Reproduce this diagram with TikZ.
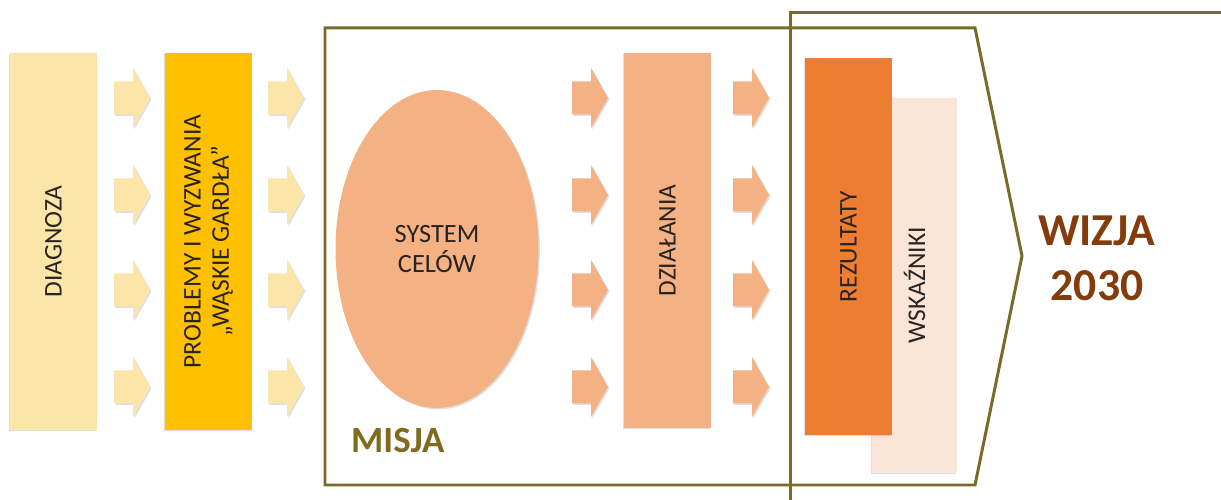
\documentclass[tikz,border=0pt]{standalone}
\usepackage{fontspec}
\setmainfont{Carlito}
\usetikzlibrary{shapes.geometric,shadows}
\definecolor{jaune}{HTML}{FCE5A8}
\definecolor{or}{HTML}{FFC000}
\definecolor{saumon}{HTML}{F4B183}
\definecolor{orange}{HTML}{ED7D31}
\definecolor{peche}{HTML}{FBE5D6}
\definecolor{cadre}{HTML}{7A6A2A}
\definecolor{olive}{HTML}{7F6B1E}
\definecolor{brun}{HTML}{843C0C}
\definecolor{texte}{HTML}{2A2420}
\begin{document}
\begin{tikzpicture}
    \tikzstyle{ombre}=[drop shadow={shadow xshift=-0.8pt,shadow yshift=-0.8pt,opacity=0.25}]
    \tikzstyle{bloc}=[rotate=90,minimum width=7.54cm,minimum height=1.74cm,inner sep=0pt,
                      align=center,text=texte,font=\fontsize{14.5}{16}\selectfont,ombre]
    \tikzstyle{fleche}=[drop shadow={shadow xshift=0.8pt,shadow yshift=-0.8pt,opacity=0.25}]
    \tikzstyle{bord}=[draw=cadre,line width=1.7pt]
    \useasboundingbox (0,0) rectangle (24.42,-10);
    % cadre vision
    \draw[bord] (24.42,-0.26) -- (15.8,-0.26) -- (15.8,-10);
    % cadre misja
    \draw[bord] (6.5,-0.56) -- (19.5,-0.56) -- (20.44,-5.12) -- (19.5,-9.7) -- (6.5,-9.7) -- cycle;
    % blocs
    \node[bloc,fill=jaune] (diag) at (1.07,-4.83) {DIAGNOZA};
    \node[bloc,fill=or] (probl) at (4.17,-4.83) {PROBLEMY I WYZWANIA\\„WĄSKIE GARDŁA”};
    \node[ellipse,fill=saumon,minimum width=4.06cm,minimum height=6.36cm,inner sep=0pt,align=center,
          text=texte,font=\fontsize{15}{17}\selectfont,fleche] (cele) at (8.74,-4.98) {SYSTEM\\CELÓW};
    \node[bloc,fill=saumon,minimum width=7.5cm] (dzial) at (13.35,-4.81) {DZIAŁANIA};
    \node[bloc,fill=peche,minimum width=7.5cm,minimum height=1.7cm,text depth=0pt] (wsk) at (18.29,-5.71) {WSKAŹNIKI};
    \node[bloc,fill=orange] (rez) at (16.97,-4.93) {REZULTATY};
    % strzalki
    \foreach \x/\c in {2.28/jaune,5.36/jaune,11.44/saumon,14.66/saumon}
      \foreach \y in {-1.96,-3.9,-5.8,-7.74}
        \fill[\c,fleche] (\x,\y+0.33) -- ++(0.38,0) -- ++(0,0.27) -- (\x+0.72,\y)
             -- (\x+0.38,\y-0.6) -- ++(0,0.27) -- (\x,\y-0.33) -- cycle;
    % napisy
    \node[anchor=west,text=olive,font=\fontsize{21}{24}\selectfont\bfseries] (misja) at (6.9,-8.82) {MISJA};
    \node[align=center,text=brun,font=\fontsize{26}{31}\selectfont\bfseries] (wizja) at (21.94,-5.17) {WIZJA\\2030};
\end{tikzpicture}
\end{document}
